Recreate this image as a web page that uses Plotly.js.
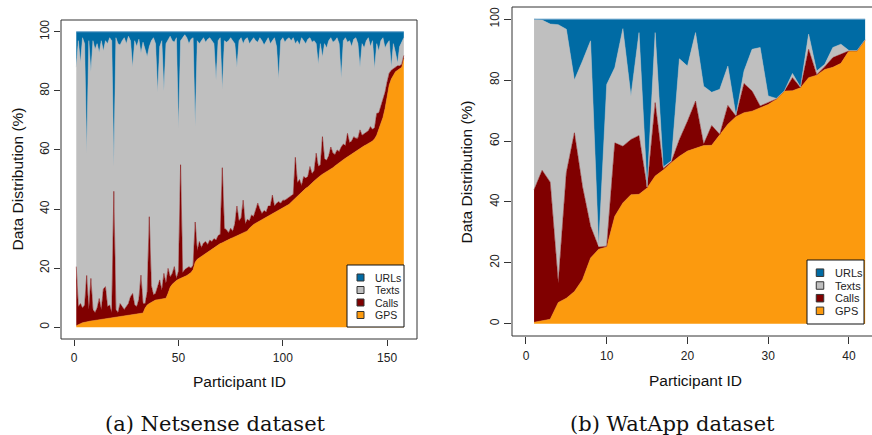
<!DOCTYPE html>
<html>
<head>
<meta charset="utf-8">
<script src="https://cdn.plot.ly/plotly-3.0.1.min.js"></script>
<style>html,body{margin:0;padding:0;background:#fff;}#chart{width:872px;height:435px;}</style>
</head>
<body>
<div id="chart"></div>
<script>
// ---------- data ----------
const seriesNames = ["GPS", "Calls", "Texts", "URLs"];
const seriesColors = ["#FC9A0E", "#800000", "#BFBFBF", "#006BA4"];

const netsenseGps = [0.5,1,1.2,1.5,1.7,1.9,2,2.1,2.2,2.3,
2.4,2.5,2.6,2.7,2.8,2.9,3,3.1,3.2,3.3,
3.4,3.5,3.6,3.7,3.8,3.9,4,4.1,4.2,4.4,
4.5,4.6,4.8,6.5,7.5,8,8.5,9,9.2,9.3,
9.4,9.5,9.6,9.8,11.5,13.5,14.5,15.2,15.8,16.2,
16.5,16.8,17,17.5,18,18.5,19.5,22,23,23.5,
24,24.5,25,25.5,26,26.5,27,27.5,28,28.3,
28.6,29,29.3,29.6,30,30.3,30.6,31,31.3,31.6,
32,32.3,32.6,33.5,34.2,34.8,35.2,35.6,36,36.3,
36.6,37,37.4,37.8,38.2,38.6,39,39.4,39.8,40.2,
40.6,41,41.6,42.3,43,43.8,44.5,45.2,45.8,46.4,
47,47.5,48,48.8,49.5,50.2,50.8,51.3,51.8,52.2,
52.6,53,53.5,54,54.6,55.2,55.7,56.2,56.7,57.2,
57.7,58.2,58.7,59.2,59.7,60.2,60.6,61,61.4,61.8,
62.2,62.6,63,63.8,65,67,69,71,74,78,
82,84,85.5,86.5,87,87.5,88,91];
const netsenseCalls = [20,6,6.8,5,5.8,15.6,4,14.4,3.8,2.7,
4.1,7.2,3.4,10.3,10.9,4.1,4.5,1.9,42.8,2.7,
1.6,4.5,3.4,2.3,3.2,4.1,6.3,7.3,3.3,2.6,
5,13,3.2,1.5,4.5,29.4,5.5,2,2.3,4.4,
6.6,3,8.6,5.2,8.4,3.5,3.7,5.3,0.7,2.8,
38.5,1.7,2.5,2.5,2.5,1.5,1.5,13.6,3,5.5,
3,4,4,2.5,3.5,2.5,3,2,3,3.2,
25.4,4.5,3.7,2.4,3.5,2.2,4.4,10,4.7,5.4,
11,2.7,3.9,2.5,3.8,2.7,4.8,6.4,4,2.2,
2.9,2,3.6,3.2,6.5,2.4,3,3.1,2.2,2.8,
2.4,2.5,2.4,2.2,2,13.7,4.5,4.8,2.2,4.6,
3.5,3.5,6.4,3.2,3.5,8.7,3.7,3.7,12.7,4.8,
3.9,5,7.5,5,3.9,4.8,3.8,4.8,5.3,4.3,
7.9,4.3,4.3,5.3,4.3,3.8,6.2,4,4.1,4.2,
4.3,5.3,4,3.7,7.4,5.5,6,6,5.5,5,
4,3,2,1.5,1.5,1,1,1];
const netsenseTexts = [67.5,90,81.5,91.5,88.5,41.5,91,70,91,89,
89.5,83.3,91,80.5,83.3,89,90.5,92,8.3,92,
91,87.5,90,92,89,90.5,86.7,76.6,89.5,88,
88,75.2,88.5,86,79.6,57.6,83,87,84.5,65.8,
79,84.5,61.8,81,77.6,81.5,78.8,76,81.5,48.3,
42,79.5,79.5,78,75.5,77.5,77,32.4,71,67,
70,69.5,67.5,69.5,68.5,68,66,54.2,66,66.5,
26.5,63.5,63.5,65,64.5,64.5,61,47,61,61,
53,62.5,61.5,60,59,60.5,57,54.5,58,58.5,
56,58,57,55,52.3,57,53,41.5,55,55,
53.5,54,54,52.5,53,38.5,48,45.5,50,46,
45.5,46.5,43.6,44.5,44,37.1,34.5,41,27,39,
38,39,37,37.5,38.5,38,36.5,23.3,35,36.5,
30.9,34.5,32,33,34,32,21.2,31,29,31,
31.5,27.1,30,20,23.6,21,22,21,15,13,
11,1,8.5,5,0.9,6.5,7.5,6];
const netsenseUrls = [12,3,10.5,2,4,41,3,13.5,3,6,
4,7,3,6.5,3,4,2,3,45.7,2,
4,4.5,3,2,4,1.5,3,12,3,5,
2.5,7.2,3.5,6,8.4,5,3,2,4,20.5,
5,3,20,4,2.5,1.5,3,3.5,2,32.7,
3,2,1,2,4,2.5,2,32,3,4,
3,2,3.5,2.5,2,3,4,16.3,3,2,
19.5,3,3.5,3,2,3,4,12,3,2,
4,2.5,2,4,3,2,3,3.5,2,3,
4.5,3,2,4,3,2,5,16,3,2,
3.5,2.5,2,3,2,4,3,4.5,2,3,
4,2.5,2,3.5,3,4,11,4,8.5,4,
5.5,3,2,3.5,3,2,4,15.7,3,2,
3.5,3,5,2.5,2,4,12,4,5.5,3,
2,5,3,12.5,4,6.5,3,2,5.5,4,
3,12,4,7,10.6,5,3.5,2];

const watappGps = [0.5,1,1.5,7,8.4,10.6,14.5,21.6,24.5,25.2,
35.3,39.7,42.4,42.5,44.6,48.5,50.5,52.9,55,56.7,
57.5,58.5,58.6,62,65.5,68,69.3,69.8,71,72,
73.7,76.4,76.5,77.5,80.8,81.6,83.5,84.2,85.5,89.6,
89.6,93.2];
const watappCalls = [43.5,49.4,45,6.4,41.2,52.1,30.5,10.4,0.7,0.3,
24.1,18.6,18.1,19.3,0.1,24.1,0.5,0.3,5.5,9.8,
15.6,0.5,6.5,0.2,6.2,0.2,9.6,6.6,0.5,0.6,
0.1,0,4.3,0.1,9.3,0.2,0.9,3.2,3,0,
0,0];
const watappTexts = [56,49.3,51.9,84.8,47.1,17.3,41.3,60.9,0.3,53.1,
24.7,38.6,14.3,33.8,0.2,23,0.5,0.3,26.5,18.1,
22.5,19,10.9,14.8,12.9,0.3,4.1,13.7,19.2,2.2,
0.2,0.1,1.4,0.1,5,1.2,0.8,3.3,3.3,0.1,
0.1,0.1];
const watappUrls = [0,0.3,1.6,1.8,3.3,20,13.7,7.1,74.5,21.4,
15.9,3.1,25.2,4.4,55.1,4.4,48.5,46.5,13,15.4,
4.4,22,24,23,15.4,31.5,17,9.9,9.3,25.2,
26,23.5,17.8,22.3,4.9,17,14.8,9.3,8.2,10.3,
10.3,6.7];

const netsenseXTicks = [0, 50, 100, 150];
const watappXTicks = [0, 10, 20, 30, 40];
const yTicks = [0, 20, 40, 60, 80, 100];
const legendOrder = ["URLs", "Texts", "Calls", "GPS"];
const captions = ["(a) Netsense dataset", "(b) WatApp dataset"];
const xTitle = "Participant ID";
const yTitle = "Data Distribution (%)";

// ---------- helpers ----------
const W = 872, H = 435;
const px = v => v / W;
const py = v => 1 - v / H;
const ids = n => Array.from({length: n}, (_, i) => i + 1);
const sans = "Liberation Sans, Arial, Helvetica, sans-serif";

const netX = ids(netsenseGps.length);
const watX = ids(watappGps.length);
const netSeries = [netsenseGps, netsenseCalls, netsenseTexts, netsenseUrls];
const watSeries = [watappGps, watappCalls, watappTexts, watappUrls];

const traces = [];
function addStack(series, xs, group, xa, ya) {
  series.forEach((s, k) => {
    traces.push({
      type: "scatter", mode: "lines", x: xs, y: s, name: seriesNames[k],
      stackgroup: group, xaxis: xa, yaxis: ya,
      fillcolor: seriesColors[k],
      line: {width: k === 3 ? 1 : 0.5, color: k === 3 ? "#5E9CC6" : seriesColors[k], shape: "linear"},
      hoverinfo: "skip", showlegend: false
    });
  });
}
addStack(netSeries, netX, "net", "x", "y");
addStack(watSeries, watX, "wat", "x2", "y2");

const axisCommon = {
  showgrid: false, zeroline: false, showline: false,
  ticks: "outside", ticklen: 6, tickwidth: 1, tickcolor: "#333",
  tickfont: {family: sans, size: 12, color: "#222"},
  fixedrange: true
};

// panel boxes (pixel coordinates)
const boxes = [
  {x0: 61, x1: 417, y0: 20, y1: 339},
  {x0: 512, x1: 879, y0: 7, y1: 336}
];

const shapes = boxes.map(b => ({
  type: "rect", xref: "paper", yref: "paper",
  x0: px(b.x0), x1: px(b.x1), y0: py(b.y1), y1: py(b.y0),
  line: {color: "#333", width: 1}, fillcolor: "rgba(0,0,0,0)", layer: "above"
}));

const annotations = [];

// legends
const legends = [
  {x0: 347, x1: 404, y0: 265, y1: 327, sx: 360.5, tx: 373, rows: [277.5, 290, 302.5, 315], fs: 10.5, sw: 7},
  {x0: 807, x1: 864, y0: 260, y1: 324, sx: 820, tx: 833, rows: [272.7, 285.5, 298.2, 310.8], fs: 11, sw: 7.5}
];
legends.forEach(L => {
  shapes.push({type: "rect", xref: "paper", yref: "paper",
    x0: px(L.x0), x1: px(L.x1), y0: py(L.y1), y1: py(L.y0),
    line: {color: "#111", width: 1}, fillcolor: "#ffffff", layer: "above"});
  legendOrder.forEach((name, r) => {
    const k = seriesNames.indexOf(name);
    const h = L.sw / 2;
    shapes.push({type: "rect", xref: "paper", yref: "paper",
      x0: px(L.sx - h), x1: px(L.sx + h), y0: py(L.rows[r] + h), y1: py(L.rows[r] - h),
      line: {color: "#333", width: 1}, fillcolor: seriesColors[k], layer: "above"});
    annotations.push({xref: "paper", yref: "paper", x: px(L.tx), y: py(L.rows[r]),
      xanchor: "left", yanchor: "middle", showarrow: false, text: name,
      font: {family: sans, size: L.fs, color: "#222"}});
  });
});

// axis titles
[
  {x: 239, y: 381, a: 0, t: xTitle},
  {x: 17, y: 179.5, a: -90, t: yTitle},
  {x: 695.5, y: 380, a: 0, t: xTitle},
  {x: 466, y: 171.5, a: -90, t: yTitle}
].forEach(o => annotations.push({xref: "paper", yref: "paper", x: px(o.x), y: py(o.y),
  xanchor: "center", yanchor: "middle", showarrow: false, text: o.t, textangle: o.a,
  font: {family: sans, size: 15.5, color: "#111"}}));

// captions
[{x: 215, t: captions[0]}, {x: 672, t: captions[1]}].forEach(o => annotations.push({
  xref: "paper", yref: "paper", x: px(o.x), y: py(424), xanchor: "center", yanchor: "middle",
  showarrow: false, text: o.t, font: {family: "DejaVu Serif, serif", size: 21, color: "#111"}}));

const layout = {
  width: W, height: H, margin: {l: 0, r: 0, t: 0, b: 0},
  paper_bgcolor: "#fff", plot_bgcolor: "#fff", showlegend: false,
  xaxis: Object.assign({}, axisCommon, {domain: [px(61), px(417)], range: [-6.32, 164.32],
    tickvals: netsenseXTicks, anchor: "y", ticklabelstandoff: 2}),
  yaxis: Object.assign({}, axisCommon, {domain: [py(339), py(20)], range: [-4, 104],
    tickvals: yTicks, tickangle: -90, anchor: "x"}),
  xaxis2: Object.assign({}, axisCommon, {domain: [px(512), 1], range: [-1.73, 42.85],
    tickvals: watappXTicks, anchor: "y2", ticklen: 7, ticklabelstandoff: 2}),
  yaxis2: Object.assign({}, axisCommon, {domain: [py(336), py(7)], range: [-4, 104],
    tickvals: yTicks, tickangle: -90, anchor: "x2", ticklen: 7}),
  shapes: shapes, annotations: annotations
};

Plotly.newPlot("chart", traces, layout, {displayModeBar: false, staticPlot: true});
</script>
</body>
</html>
